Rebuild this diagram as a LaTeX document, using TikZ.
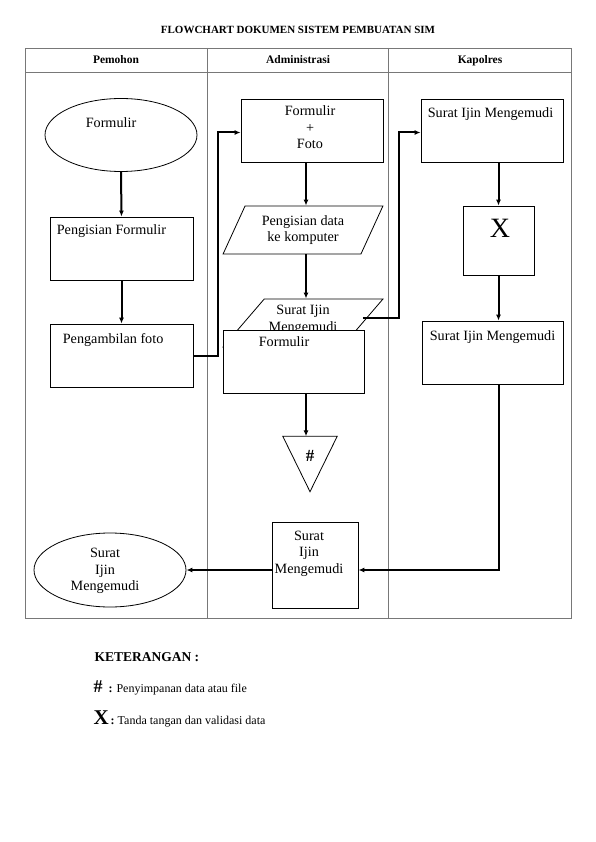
\documentclass[tikz,border=0pt]{standalone}
\usepackage{fontspec}
\setmainfont{Liberation Serif}
\usetikzlibrary{arrows.meta,positioning,shapes.geometric}
\definecolor{lane}{RGB}{120,120,120}

\begin{document}
\begin{tikzpicture}[x=1pt,y=-1pt,
        box/.style={draw,line width=0.8pt,fill=white,inner sep=0pt},
        io/.style={box,trapezium,trapezium left angle=62,trapezium right angle=118,trapezium stretches=true,inner sep=2pt},
        flow/.style={line width=2pt,-{Latex[length=6pt,width=5pt]}},
        txt/.style={font=\fontsize{14.2}{16.5}\selectfont,align=center,inner sep=0pt},
        head/.style={font=\fontsize{11.5}{13}\selectfont\bfseries,inner sep=0pt,anchor=base}]
        \useasboundingbox (0,0) rectangle (595,842);
        \node[font=\fontsize{11}{13}\selectfont\bfseries] (title) at (298,30) {FLOWCHART DOKUMEN SISTEM PEMBUATAN SIM};
        \draw[lane,line width=0.8pt] (25,48) rectangle (571,618);
        \draw[lane,line width=0.8pt] (25,72) -- (571,72);
        \draw[lane,line width=0.8pt] (207,48) -- (207,618);
        \draw[lane,line width=0.8pt] (388,48) -- (388,618);
        \node[head] (hPemohon) at (116,64) {Pemohon};
        \node[head] (hAdmin) at (298,64) {Administrasi};
        \node[head] (hKapolres) at (480,64) {Kapolres};

        \node[box,ellipse,minimum width=152,minimum height=73,
          label={[txt,xshift=-10,yshift=12]center:Formulir}] (formA) at (121,135) {};
        \node[box,minimum width=143,minimum height=63,
          label={[txt,anchor=north west,xshift=7,yshift=-8]north west:Pengisian Formulir}] (isiF) at (121.5,248.5) {};
        \node[box,minimum width=143,minimum height=63,
          label={[txt,anchor=north west,xshift=13,yshift=-10]north west:Pengambilan foto}] (ambilF) at (121.5,355.5) {};
        \node[box,ellipse,minimum width=152,minimum height=74,
          label={[txt,xshift=-5,yshift=-1]center:Surat\\Ijin\\Mengemudi}] (simEl) at (110,570) {};

        \node[box,minimum width=142,minimum height=63,
          label={[txt,xshift=-2,yshift=3]center:Formulir\\+\\Foto}] (formFoto) at (312,130.5) {};
        \node[io,txt,minimum width=160,minimum height=48] (pdata) at (303,230) {Pengisian data\\ ke komputer};
        \node[io,minimum width=160,minimum height=48,
          label={[txt,yshift=3]center:Surat Ijin\\Mengemudi}] (psim) at (303,323) {};
        \node[box,minimum width=141,minimum height=63,
          label={[txt,anchor=north west,xshift=36,yshift=-7]north west:Formulir}] (formB) at (293.5,361.5) {};
        \node[minimum width=54,minimum height=55,inner sep=0pt,
          label={[font=\fontsize{17}{17}\selectfont\bfseries,yshift=8]center:\#}] (store) at (310,464) {};
        \draw[line width=0.8pt] (store.north west) -- (store.north east) -- (store.south) -- cycle;
        \node[box,minimum width=86,minimum height=86,
          label={[txt,anchor=north,xshift=-6,yshift=-9]north:Surat\\Ijin\\Mengemudi}] (simB) at (315,565) {};

        \node[box,minimum width=142,minimum height=63,
          label={[txt,anchor=north west,xshift=7,yshift=-9]north west:Surat Ijin Mengemudi}] (sim1) at (492,130.5) {};
        \node[box,minimum width=71,minimum height=69,
          label={[font=\fontsize{28}{28}\selectfont,xshift=1.5,yshift=12]center:X}] (sign) at (498.5,240.5) {};
        \node[box,minimum width=141,minimum height=63,
          label={[txt,anchor=north west,xshift=8,yshift=-10]north west:Surat Ijin Mengemudi}] (sim2) at (492.5,352.5) {};

        \coordinate (midline) at (306,0);
        \coordinate (bendA) at (218,0);
        \coordinate (bendB) at (399,0);
        \draw[flow] (formA.south) -- (isiF.north);
        \draw[flow] (isiF.south) -- (ambilF.north);
        \draw[flow] (ambilF.east) -- (ambilF.east -| bendA) |- ([yshift=-2]formFoto.west);
        \draw[flow] (formFoto.south -| midline) -- (pdata.north -| midline);
        \draw[flow] (pdata.south -| midline) -- (psim.north -| midline);
        \draw[flow] ([yshift=5]psim.east) -- ([yshift=5]psim.east -| bendB) |- ([yshift=-2]sim1.west);
        \draw[flow] (formB.south -| midline) -- (store.north -| midline);
        \draw[flow] (sim1.south -| sign.north) -- (sign.north);
        \draw[flow] (sign.south) -- (sign.south |- sim2.north);
        \draw[flow] (sim2.south -| sign.south) |- ([yshift=-5]simB.east);
        \draw[flow] ([yshift=-5]simB.west) -- ([yshift=-5]simB.west -| simEl.east);

        \node[anchor=west,font=\fontsize{13.5}{16}\selectfont\bfseries] (legTitle) at (91,657) {KETERANGAN :};
        \node[anchor=base west,font=\fontsize{12}{14}\selectfont] (legStore) at (90,692)
          {{\fontsize{18}{18}\selectfont\bfseries\#}\ \ \textbf{:} Penyimpanan data atau file};
        \node[anchor=base west,font=\fontsize{12}{14}\selectfont] (legSign) at (90,724)
          {{\fontsize{21}{21}\selectfont\bfseries X}\,\textbf{:} Tanda tangan dan validasi data};
      \end{tikzpicture}
\end{document}
